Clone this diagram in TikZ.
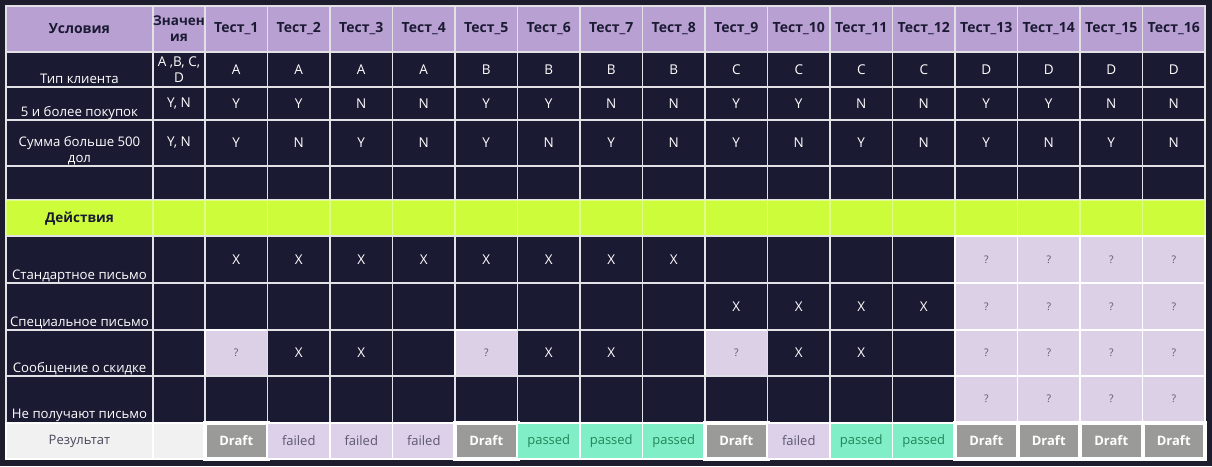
\documentclass[tikz,border=0pt]{standalone}
\usepackage{fontspec}
\setmainfont{Open Sans}

\definecolor{pagebg}{HTML}{1E1D2E}
\definecolor{navy}{HTML}{1B1A33}
\definecolor{lilac}{HTML}{B9A0D3}
\definecolor{limegreen}{HTML}{CCFC3A}
\definecolor{paleask}{HTML}{DCD0E6}
\definecolor{failbg}{HTML}{DDD0E9}
\definecolor{failtxt}{HTML}{5C5870}
\definecolor{passbg}{HTML}{80EEC6}
\definecolor{passtxt}{HTML}{23855A}
\definecolor{draftbg}{HTML}{9A9A98}
\definecolor{resbg}{HTML}{F1F1F1}
\definecolor{gridline}{HTML}{E2E2E6}

\tikzset{
  cell/.style={draw=gridline, line width=1.6pt, fill=navy, text=white, minimum width=62.5pt,
    inner sep=0pt, align=center, font=\fontsize{13.5}{16}\selectfont},
  headcell/.style={cell, fill=lilac, text=navy, minimum height=46pt, font=\fontsize{14}{16}\selectfont\bfseries},
  limecell/.style={cell, fill=limegreen, draw=white!40!limegreen, text=navy, minimum height=36pt},
  askcell/.style={cell, fill=paleask, draw=white, text=failtxt, font=\fontsize{10.5}{12}\selectfont},
  rescell/.style={cell, fill=resbg, draw=white, text=failtxt!80!black, minimum height=36.5pt, font=\fontsize{13}{15}\selectfont},
  draftcell/.style={rescell, fill=draftbg, line width=4pt, text=white, font=\fontsize{13}{15}\selectfont\bfseries},
  failcell/.style={rescell, fill=failbg, text=failtxt, font=\fontsize{13}{15}\selectfont},
  passcell/.style={rescell, fill=passbg, text=passtxt, font=\fontsize{13}{15}\selectfont},
  rowlabel/.style={anchor=base, text=white, inner sep=0pt, align=center, font=\fontsize{13.2}{16}\selectfont}
}

\begin{document}
\begin{tikzpicture}[x=1pt, y=-1pt]
        \useasboundingbox (0,0) rectangle (1212,466);
        \fill[pagebg] (0,0) rectangle (1212,466);

        % header
        \node[headcell, minimum width=147pt] (h_cond) at (79.5,29) {Условия};
        \node[headcell, minimum width=52pt, font=\fontsize{13.5}{16}\selectfont\bfseries] (h_vals) at (179,29) {Значен\\ия};
        \foreach \i in {1,...,16}
          \node[headcell] (h_t\i) at ({173.75+62.5*\i},29) {Тест\_\i};

        % conditions
        \node[cell, minimum width=147pt, minimum height=35pt] (c_type) at (79.5,69.5) {};
        \node[rowlabel] (l_type) at ([yshift=4.5pt]c_type.south) {Тип клиента};
        \node[cell, minimum width=52pt, minimum height=35pt, font=\fontsize{13.5}{16}\selectfont] (v_type) at (179,69.5) {A ,B, C,\\D};
        \foreach \v [count=\i] in {A,A,A,A,B,B,B,B,C,C,C,C,D,D,D,D}
          \node[cell, minimum height=35pt] (type_\i) at ({173.75+62.5*\i},69.5) {\v};

        \node[cell, minimum width=147pt, minimum height=33pt] (c_buy) at (79.5,103.5) {};
        \node[rowlabel] (l_buy) at ([yshift=4.5pt]c_buy.south) {5 и более покупок};
        \node[cell, minimum width=52pt, minimum height=33pt] (v_buy) at (179,103.5) {Y, N};
        \foreach \v [count=\i] in {Y,Y,N,N,Y,Y,N,N,Y,Y,N,N,Y,Y,N,N}
          \node[cell, minimum height=33pt] (buy_\i) at ({173.75+62.5*\i},103.5) {\v};

        \node[cell, minimum width=147pt, minimum height=46pt] (c_sum) at (79.5,143) {};
        \node[rowlabel, anchor=south] (l_sum) at ([yshift=1.5pt]c_sum.south) {Сумма больше 500\\дол};
        \node[cell, minimum width=52pt, minimum height=46pt] (v_sum) at (179,143) {Y, N};
        \foreach \v [count=\i] in {Y,N,Y,N,Y,N,Y,N,Y,N,Y,N,Y,N,Y,N}
          \node[cell, minimum height=46pt] (sum_\i) at ({173.75+62.5*\i},143) {\v};

        % empty row
        \node[cell, minimum width=147pt, minimum height=34pt] (c_blank) at (79.5,183) {};
        \node[cell, minimum width=52pt, minimum height=34pt] (v_blank) at (179,183) {};
        \foreach \i in {1,...,16}
          \node[cell, minimum height=34pt] (blank_\i) at ({173.75+62.5*\i},183) {};

        % actions
        \node[limecell, minimum width=147pt, font=\fontsize{13.5}{16}\selectfont\bfseries] (c_act) at (79.5,218.5) {Действия};
        \node[limecell, minimum width=52pt] (v_act) at (179,218.5) {};
        \foreach \i in {1,...,16}
          \node[limecell] (act_\i) at ({173.75+62.5*\i},218.5) {};

        \node[cell, minimum width=147pt, minimum height=47pt] (c_std) at (79.5,259.5) {};
        \node[rowlabel] (l_std) at ([yshift=4.5pt]c_std.south) {Стандартное письмо};
        \node[cell, minimum width=52pt, minimum height=47pt] (v_std) at (179,259.5) {};
        \foreach \s/\v [count=\i] in {cell/X,cell/X,cell/X,cell/X,cell/X,cell/X,cell/X,cell/X,cell/,cell/,cell/,cell/,askcell/?,askcell/?,askcell/?,askcell/?}
          \node[\s, minimum height=47pt] (std_\i) at ({173.75+62.5*\i},259.5) {\v};

        \node[cell, minimum width=147pt, minimum height=47pt] (c_spec) at (79.5,306.5) {};
        \node[rowlabel] (l_spec) at ([yshift=4.5pt]c_spec.south) {Специальное письмо};
        \node[cell, minimum width=52pt, minimum height=47pt] (v_spec) at (179,306.5) {};
        \foreach \s/\v [count=\i] in {cell/,cell/,cell/,cell/,cell/,cell/,cell/,cell/,cell/X,cell/X,cell/X,cell/X,askcell/?,askcell/?,askcell/?,askcell/?}
          \node[\s, minimum height=47pt] (spec_\i) at ({173.75+62.5*\i},306.5) {\v};

        \node[cell, minimum width=147pt, minimum height=46pt] (c_disc) at (79.5,353) {};
        \node[rowlabel] (l_disc) at ([yshift=4.5pt]c_disc.south) {Сообщение о скидке};
        \node[cell, minimum width=52pt, minimum height=46pt] (v_disc) at (179,353) {};
        \foreach \s/\v [count=\i] in {askcell/?,cell/X,cell/X,cell/,askcell/?,cell/X,cell/X,cell/,askcell/?,cell/X,cell/X,cell/,askcell/?,askcell/?,askcell/?,askcell/?}
          \node[\s, minimum height=46pt] (disc_\i) at ({173.75+62.5*\i},353) {\v};

        \node[cell, minimum width=147pt, minimum height=46.5pt] (c_none) at (79.5,399.25) {};
        \node[rowlabel] (l_none) at ([yshift=4.5pt]c_none.south) {Не получают письмо};
        \node[cell, minimum width=52pt, minimum height=46.5pt] (v_none) at (179,399.25) {};
        \foreach \s/\v [count=\i] in {cell/,cell/,cell/,cell/,cell/,cell/,cell/,cell/,cell/,cell/,cell/,cell/,askcell/?,askcell/?,askcell/?,askcell/?}
          \node[\s, minimum height=46.5pt] (none_\i) at ({173.75+62.5*\i},399.25) {\v};

        % results
        \node[rescell, minimum width=147pt] (c_res) at (79.5,441) {Результат};
        \node[rescell, minimum width=52pt] (v_res) at (179,441) {};
        \foreach \s/\v [count=\i] in {draftcell/Draft,failcell/failed,failcell/failed,failcell/failed,draftcell/Draft,passcell/passed,passcell/passed,passcell/passed,draftcell/Draft,failcell/failed,passcell/passed,passcell/passed,draftcell/Draft,draftcell/Draft,draftcell/Draft,draftcell/Draft}
          \node[\s] (res_\i) at ({173.75+62.5*\i},441) {\v};
        \end{tikzpicture}
\end{document}
